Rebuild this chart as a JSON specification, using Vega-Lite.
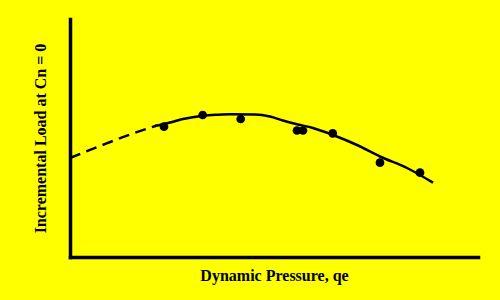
{
  "$schema": "https://vega.github.io/schema/vega-lite/v6.json",
  "width": 408,
  "height": 238,
  "autosize": {"type": "none"},
  "padding": {"left": 70, "top": 19, "right": 22, "bottom": 43},
  "background": "#ffff00",
  "config": {"view": {"stroke": null}},
  "datasets": {
    "dashed": [
      {"q": 0, "load": 99},
      {"q": 30, "load": 111},
      {"q": 60, "load": 122.5},
      {"q": 87, "load": 131.5}
    ],
    "solid": [
      {"q": 85, "load": 131},
      {"q": 100, "load": 134.5},
      {"q": 113, "load": 138},
      {"q": 133, "load": 141.3},
      {"q": 147, "load": 142.3},
      {"q": 160, "load": 142.8},
      {"q": 185, "load": 142.6},
      {"q": 200, "load": 140.5},
      {"q": 213, "load": 136.5},
      {"q": 226, "load": 133},
      {"q": 243, "load": 129},
      {"q": 263, "load": 122},
      {"q": 287, "load": 112},
      {"q": 310, "load": 100.5},
      {"q": 337, "load": 89},
      {"q": 363, "load": 74.3}
    ],
    "pts": [
      {"q": 94, "load": 130.3},
      {"q": 132.7, "load": 142},
      {"q": 170.7, "load": 138},
      {"q": 227, "load": 126.5},
      {"q": 233, "load": 126.5},
      {"q": 262.7, "load": 123.7},
      {"q": 310, "load": 94.3},
      {"q": 350, "load": 84.3}
    ]
  },
  "layer": [
    {
      "data": {"name": "dashed"},
      "mark": {"type": "line", "color": "black", "strokeWidth": 2.5, "strokeDash": [11, 6.5], "interpolate": "monotone"},
      "encoding": {
        "x": {"field": "q", "type": "quantitative", "scale": {"domain": [0, 408], "nice": false, "zero": false},
          "axis": {"title": "Dynamic Pressure, qe", "ticks": false, "labels": false, "grid": false, "domainColor": "black", "domainWidth": 3.5, "domainCap": "square", "titleFont": "Liberation Serif", "titleFontSize": 16, "titleFontWeight": "bold", "titleColor": "black", "titlePadding": 10}},
        "y": {"field": "load", "type": "quantitative", "scale": {"domain": [0, 238], "nice": false, "zero": false},
          "axis": {"title": "Incremental Load at Cn = 0", "ticks": false, "labels": false, "grid": false, "domainColor": "black", "domainWidth": 3.5, "domainCap": "square", "titleFont": "Liberation Serif", "titleFontSize": 16, "titleFontWeight": "bold", "titleColor": "black", "titlePadding": 22}}
      }
    },
    {
      "data": {"name": "solid"},
      "mark": {"type": "line", "color": "black", "strokeWidth": 2.5, "interpolate": "monotone"},
      "encoding": {
        "x": {"field": "q", "type": "quantitative"},
        "y": {"field": "load", "type": "quantitative"}
      }
    },
    {
      "data": {"name": "pts"},
      "mark": {"type": "circle", "color": "black", "opacity": 1, "size": 76},
      "encoding": {
        "x": {"field": "q", "type": "quantitative"},
        "y": {"field": "load", "type": "quantitative"}
      }
    }
  ]
}
